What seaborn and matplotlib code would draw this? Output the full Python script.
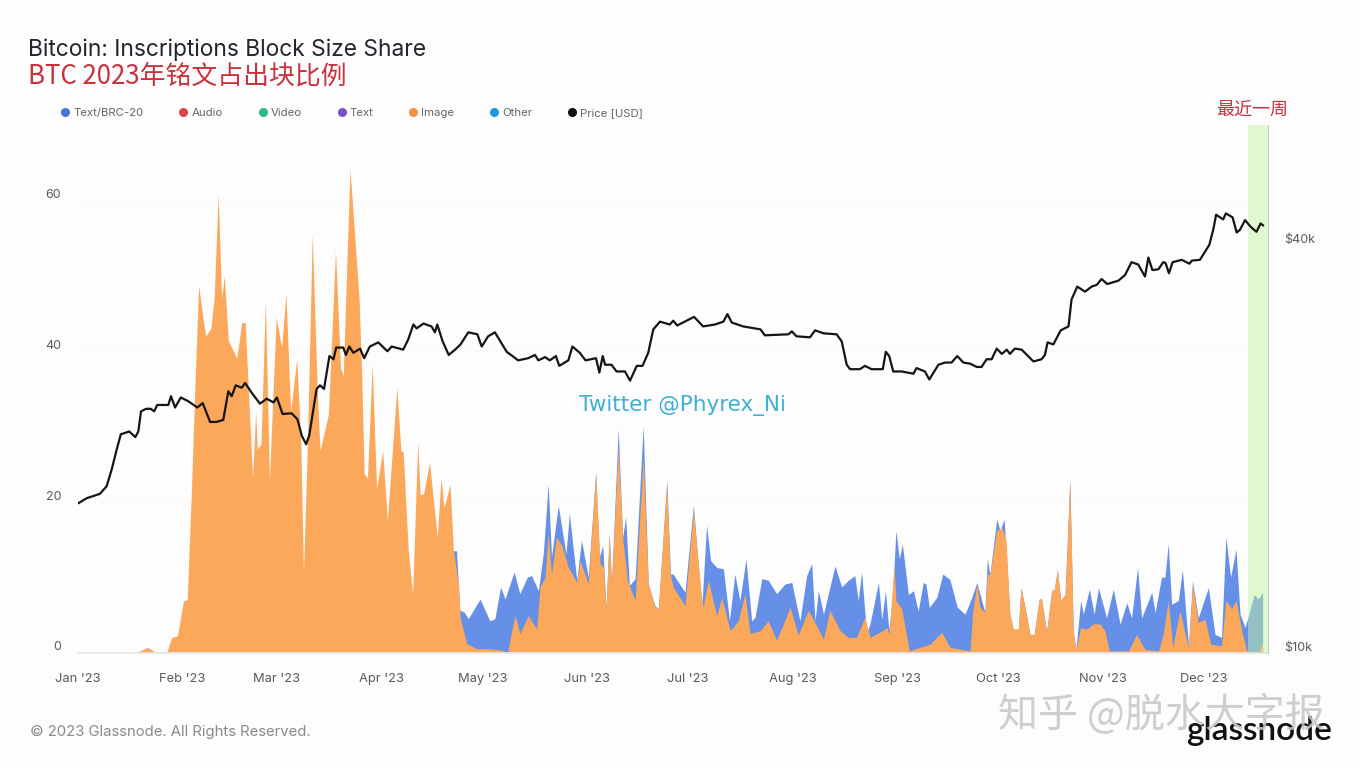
import pandas as pd
import numpy as np
import matplotlib
matplotlib.use('Agg')
import matplotlib.pyplot as plt
import matplotlib.dates as mdates
from matplotlib.lines import Line2D
from matplotlib.transforms import ScaledTranslation
import seaborn as sns

# Values. Days are counted from 1 Jan 2023
image_days = [17.4, 20.6, 22.8, 26.3, 27.8, 29.5, 31.3, 32.4, 33.7, 34.7, 35.8, 37.2, 37.9, 39.4, 40.4, 41.6, 42.6, 43.4,
              44.6, 46.1, 47.1, 48.6, 49.6, 50.8, 51.8, 52.7, 53.2, 54.3, 55.6, 56.8, 58.8, 60.4, 61.7, 63.1, 64.9, 66.1,
              66.9, 68.1, 69.5, 71, 71.8, 74.3, 76.4, 77.9, 78.7, 80.7, 82.2, 83.4, 84.2, 84.9, 85.9, 87.3, 88.6, 90.4,
              91.8, 94.6, 95.8, 96.5, 98, 99.3, 100.8, 101.5, 102.5, 104.3, 106.6, 107.7, 108.6, 110.4, 111.4, 112.9, 113.4,
              115.3, 118.3, 122.2, 125.7, 127.5, 128.7, 129.7, 131.1, 133.6, 136.1, 137.1, 138.6, 139.5, 140.5, 142, 143.5,
              145.5, 148, 149, 151.4, 153.6, 154.9, 155.9, 156.7, 157.6, 158.3, 160.3, 161.6, 163, 165.3, 167.7, 169.2, 171.2,
              172.2, 174.7, 175.7, 176.6, 180.1, 182.6, 184.6, 185.5, 187, 189.5, 191, 193.5, 195.9, 197.9, 199.4, 202.4,
              204.8, 207.3, 211.3, 213.7, 216.7, 221.2, 223.1, 226.1, 228.6, 231, 233.5, 235, 238, 240, 240.7, 242.1, 242.7,
              244.4, 245.4, 246.7, 247.9, 252.8, 256.3, 258.7, 264.7, 265.5, 266.7, 267.6, 269.1, 269.8, 270.6, 272.6, 274.1,
              275.4, 276.5, 277.5, 279, 279.8, 281, 282.5, 283.7, 285.2, 285.9, 287.4, 288.9, 289.7, 290.6, 291.6, 292.9,
              294.3, 295.3, 296.1, 297.5, 299.3, 301.3, 303.2, 304.7, 306, 311.7, 314.1, 316.6, 320.6, 322, 323.5, 324.8,
              327, 328.5, 329.5, 330.7, 332.4, 334.4, 336.1, 339.3, 340.6, 342.3, 343.6, 345.3, 346.8, 350.2, 351.5]
image_share = [0, 0.7, 0.1, 0, 2, 2.2, 6.9, 7, 22, 35.6, 48.7, 44, 42, 43, 47, 60.8, 47, 50,
               41.4, 40, 39, 43.8, 43.8, 32.5, 23, 32, 27, 27.7, 46.7, 22.8, 44.5, 40.5, 47.6, 32, 39, 28,
               10.6, 28, 55.5, 34.7, 26.8, 31.6, 53.3, 37.8, 36.7, 64.2, 54.6, 47, 36.5, 23.7, 23.2, 38.3, 21.7, 26.8,
               17.5, 35.2, 26.8, 26.6, 13.5, 7.7, 28, 21, 21, 25.2, 15.3, 23.2, 19.2, 22.3, 13.5, 9, 4.6,
               1.2, 0.5, 0.5, 0.3, 0, 2.9, 4.9, 2.5, 4.9, 3.1, 8.7, 10, 15.8, 10.4, 15.3, 14.2,
               11.3, 9.3, 12.2, 9.1, 23.9, 11.8, 11.3, 5.8, 15.8, 9.1, 27.3, 15.3, 9.6, 6.9, 25.9, 9.1, 6,
               5.8, 22.4, 10.4, 8.7, 6.2, 18.8, 9.1, 6, 9.6, 4.9, 7.3, 2.9, 4.2, 7.8, 2.5, 2.9,
               4.2, 1.6, 6, 2.3, 5.6, 1.8, 5.6, 2.9, 2, 2, 4.7, 2, 2.7, 3.3, 2.4, 11.7, 6.9,
               5.8, 3.3, 0.2, 0.4, 1.1, 2.7, 0.7, 0.2, 5.5, 9.1, 6, 5.3, 10.4, 10.4, 16.2, 16.6,
               14.8, 5.1, 3.1, 3.1, 8.6, 6, 2.4, 2.4, 7.1, 7.1, 2.7, 8.2, 8.4, 11, 6.9, 7.7,
               23, 2.9, 0.4, 3.3, 3.1, 3.8, 3.8, 2.9, 0.2, 0.2, 2.4, 0.4, 0.2, 2.4, 6.9, 0.7,
               5.5, 2.4, 0.7, 9.1, 4, 4.4, 1.1, 0.9, 6.9, 5.8, 6.9, 2.9, 0.2, 0, 1.3]

# top edge of the blue band (Text/BRC-20 stacked on Image)
stack_days = [111.4, 112.3, 113.3, 114.5, 115.8, 119.3, 122.2, 123.7, 125.4, 126.7, 129.4, 131.1, 133.3, 134.6,
              136.6, 138.1, 139.5, 140.5, 142.5, 144.8, 145.8, 148, 149.4, 151.4, 153.6, 154.7, 155.7, 156.7, 157.6, 158.3,
              160.3, 161.6, 162.5, 163.6, 165.3, 167.7, 169.2, 171.2, 172.2, 174.7, 175.8, 176.6, 180.1, 182.6, 185.1, 186.5,
              187.7, 189.5, 191.5, 193.3, 194.9, 196.4, 198.2, 199.9, 200.9, 202.9, 204.8, 207.3, 209.8, 211.8, 214.2, 216.2,
              217.7, 218.7, 219.7, 221.2, 224.6, 226.6, 228.6, 230.5, 231.5, 232.5, 234, 235, 237.5, 238.5, 239.6, 240.6,
              241.7, 242.7, 243.7, 244.6, 246.4, 247.9, 249.3, 250.8, 251.6, 252.6, 254.8, 256.6, 258.7, 260.9, 263.2, 265.2,
              266.7, 269.1, 269.8, 270.6, 272.6, 273.6, 274.8, 276.5, 277.5, 279, 279.8, 281, 282.5, 283.7, 285.2, 285.9,
              287.4, 288.9, 289.7, 290.6, 291.6, 292.9, 294.3, 295.3, 296.1, 297.5, 298.3, 300.1, 301.5, 302.8, 305.2, 307.2, 309.2,
              311.2, 312.6, 314.4, 315.6, 318.6, 319.6, 321.5, 322.5, 323.5, 324.5, 326.5, 327.7, 329.5, 330.7, 332.4, 335.4,
              337.4, 339.3, 340.6, 342, 343.6, 344.8, 346.3, 349, 350.2, 351.5]
stack_share = [13.5, 13.5, 5.6, 5.4, 4.5, 7.1, 4.2, 4.5, 8.7, 7.1, 10.7, 7.8, 10, 10.2,
               8.2, 13.3, 22.4, 12.7, 19.5, 13.1, 18.4, 9.6, 14.9, 10, 23.9, 12.7, 14.2, 5.8, 15.8, 9.1,
               29.7, 15.3, 18, 8.9, 9.8, 30.1, 9.1, 6.2, 5.8, 22.8, 10.4, 10.4, 8, 19.5, 6, 16.9,
               12.2, 11.3, 11.1, 4.2, 10.4, 6.9, 12.4, 4.2, 4.7, 9.8, 9.6, 7.8, 9.1, 9.3, 4.2, 10.2,
               11.8, 4.2, 8.2, 5.1, 11.5, 8.7, 9.6, 10.2, 6.9, 10.7, 2.5, 3.8, 9.3, 4.4, 8.2, 2.9,
               7.7, 16.2, 12.4, 14.4, 7.7, 8.2, 5.5, 9.3, 9.1, 6, 7.3, 10.4, 9.7, 6, 5.1, 7.3,
               9.3, 5.3, 12.4, 10.4, 17.7, 16.2, 17.7, 5.1, 3.1, 3.1, 8.6, 6, 2.4, 2.4, 7.1, 7.1,
               2.7, 8.2, 8.4, 11, 6.9, 7.7, 23, 2.9, 0.4, 6.9, 5.1, 8.4, 5.1, 8.6, 4.6, 8.4, 3.8,
               6.6, 4.6, 11.3, 4.6, 8, 5.3, 10, 10, 14.4, 6.4, 6.9, 11, 0.9, 9.5, 4.6, 8.6,
               2.4, 2, 15.3, 10, 13.7, 5.1, 3.3, 7.7, 7.1, 8]

price_days = [0, 2.6, 6.5, 8.5, 10, 11.5, 12.7, 14, 15.2, 17, 17.9, 18.7, 20.2, 21.6, 22.6, 23.5, 26.8, 27.6, 28.8, 30.5,
              32.7, 35.4, 37, 39.2, 41.1, 43.1, 44.6, 45.6, 46.8, 48.6, 49.6, 51.5, 54, 56, 58, 59, 60.7, 63.4, 65.1, 66.4,
              67.7, 68.6, 70.8, 71.8, 73, 74.6, 75.8, 76.6, 78.7, 79.5, 80.5, 81.7, 83.7, 84.9, 86.6, 89.1, 91.8, 93.1, 96.5,
              98, 99.5, 100.5, 102.5, 104.9, 105.9, 106.6, 108.2, 110, 111.9, 113.5, 115.8, 118.5, 119.8, 121.7, 123.7, 127.2,
              130.6, 133.6, 135.6, 136.6, 138.6, 140, 141.8, 142.8, 145.5, 146.7, 148.9, 150.6, 153.7, 154.7, 155.7, 156.4,
              158.3, 159.8, 162.3, 163.8, 165.8, 167.5, 169.2, 170.7, 172.7, 175.6, 176.6, 177.8, 182.8, 185.5, 189, 191.5,
              192.7, 194, 197.4, 202.5, 203.8, 210.8, 211.8, 213.2, 217.2, 218.7, 221.2, 225.1, 226.6, 228.1, 229.1, 232,
              233.5, 235.5, 238.8, 239.7, 240.7, 241.9, 244.4, 247.9, 248.8, 251.3, 252.6, 255.3, 257.3, 259.2, 260.9, 262.7,
              264.7, 266.7, 268.1, 269.6, 271.1, 272.6, 274.1, 275.6, 276.5, 278, 280, 283.5, 285.9, 286.9, 287.7, 289.4,
              291.6, 293.9, 294.8, 296.5, 298.8, 300.8, 302.3, 303.7, 305.4, 308.7, 310.7, 312.6, 314.6, 316.6, 317.6, 318.8,
              320.6, 322, 322.7, 323.7, 324.8, 327.5, 329.8, 330.5, 332.9, 335.7, 336.9, 337.7, 339.8, 340.6, 342.6, 343.8,
              344.8, 346.3, 347.8, 348.7, 349.7, 350.9, 351.7]
price_usd = [16600, 16900, 17150, 17600, 18640, 19950, 21000, 21100, 21200, 20800, 21200, 22700, 22900, 22900, 22700, 23200, 23200, 23900, 23000, 23800,
             23500, 23000, 23350, 21900, 21900, 22050, 24300, 23900, 24800, 24600, 25000, 24200, 23300, 23700, 23400, 23800, 22500, 22550, 22100, 20900,
             20300, 20900, 24500, 24800, 24500, 27400, 27100, 28200, 28200, 27500, 28300, 27700, 28100, 27200, 28300, 28700, 27850, 28300, 28000,
             29000, 30500, 30100, 30600, 30300, 29700, 30500, 28800, 27500, 28000, 28500, 29700, 29500, 28300, 29300, 29700, 27800,
             27000, 27200, 27500, 27000, 27300, 27000, 27400, 26500, 27000, 28300, 27700, 27000, 27200, 25900, 27400, 26600,
             26600, 26000, 26000, 25200, 26500, 26500, 27700, 30000, 30800, 30500, 30900, 30400, 31300, 30300, 30500, 30800,
             31600, 30700, 30300, 30000, 29400, 29500, 29800, 29300, 29200, 29900, 29600, 29500, 28800, 26600, 26200, 26200,
             26500, 26200, 26200, 27800, 27400, 26000, 26000, 25800, 26300, 26000, 25300, 26600, 26800, 26800, 27400, 26800,
             26700, 26400, 26400, 27100, 27100, 28100, 27600, 28000, 27600, 28100, 28000, 26900, 27100, 27500, 28700, 28500,
             29900, 30300, 33200, 34700, 34100, 34700, 34900, 35600, 35000, 35400, 36100, 37700, 37400, 35900, 38300, 36700,
             36800, 37700, 37600, 36300, 37700, 38000, 37500, 37900, 38000, 40000, 42200, 44300, 43600, 44500, 43900, 41700,
             42100, 43500, 42600, 42200, 41800, 43000, 42700]

legend_names = ['Text/BRC-20', 'Audio', 'Video', 'Text', 'Image', 'Other', 'Price [USD]']
legend_colors = ['#4a72d0', '#d8434e', '#2bb88a', '#7b4fc9', '#ef9440', '#1f97e0', '#111111']

share_ticks = [0, 20, 40, 60]
price_ticks = [10000, 40000]
price_tick_labels = ['$10k', '$40k']


def to_dates(days):
    return pd.Timestamp('2023-01-01') + pd.to_timedelta(days, unit='D')


sns.set_theme(style='white')
plt.rcParams['font.family'] = ['Inter', 'Noto Sans CJK SC', 'DejaVu Sans']
plt.rcParams['axes.unicode_minus'] = False

W, H = 1360, 766
BG = '#fdfdfe'
fig = plt.figure(figsize=(W / 100, H / 100), dpi=100, facecolor=BG)
left, right, top, bottom = 78, 1268, 125, 652.5
ax = fig.add_axes([left / W, 1 - bottom / H, (right - left) / W, (bottom - top) / H], facecolor=BG)

# share areas, the stack top goes behind the image area
ax.fill_between(to_dates(stack_days), 0, stack_share, color='#6690e8', lw=0)
ax.fill_between(to_dates(image_days), 0, image_share, color='#fba85b', lw=0)

ax.set_xlim(to_dates([0, 353.1]))
ax.set_ylim(0, 70)
ax.set_yticks(share_ticks)
ax.grid(axis='y', color='#f9f9fa', lw=1)
ax.set_axisbelow(True)
ax.xaxis.set_major_locator(mdates.MonthLocator())
ax.xaxis.set_major_formatter(mdates.DateFormatter("%b '%y"))
ax.tick_params(axis='x', length=0, pad=15, labelsize=9.3, labelcolor='#5a5a5a')
ax.tick_params(axis='y', length=0, pad=12, labelsize=9, labelcolor='#5a5a5a')
for sp in ['top', 'left', 'right']:
    ax.spines[sp].set_visible(False)
ax.spines['bottom'].set_color('#e6e6ea')

# price on its own log axis
ax2 = ax.twinx()
sns.lineplot(x=to_dates(price_days), y=price_usd, ax=ax2, color='#151515', lw=1.6, estimator=None, errorbar=None, zorder=6)
ax2.set_yscale('log')
ax2.set_ylim(10000, 60100)
ax2.set_yticks(price_ticks)
ax2.set_yticklabels(price_tick_labels)
ax2.minorticks_off()
ax2.set_xlabel('')
ax2.set_ylabel('')
ax2.tick_params(axis='y', length=0, pad=12, labelsize=9, labelcolor='#5a5a5a')
for sp in ['top', 'left', 'bottom']:
    ax2.spines[sp].set_visible(False)
ax2.spines['right'].set_color('#c4c8c8')
ax2.spines['right'].set_linewidth(0.8)

# the labels sit above their gridlines in the original
lift = ScaledTranslation(0, -1 / 100, fig.dpi_scale_trans)
for lab in ax.get_yticklabels() + ax2.get_yticklabels():
    lab.set_va('bottom')
    lab.set_transform(lab.get_transform() + lift)

# last week highlight
ax2.axvspan(to_dates([347.2])[0], to_dates([353.1])[0], color='#c4f5a0', alpha=0.48, lw=0, zorder=5)

handles = [Line2D([], [], ls='', marker='o', ms=5.5, color=c) for c in legend_colors]
fig.legend(handles, legend_names, ncol=7, frameon=False, loc='center left', bbox_to_anchor=(54 / W, 1 - 113 / H),
           fontsize=8.2, labelcolor='#666666', handlelength=1, handletextpad=0.2, columnspacing=3.0, borderpad=0)


def px_text(x, y, s, **kw):
    kw.setdefault('va', 'center')
    fig.text(x / W, 1 - y / H, s, **kw)


px_text(28, 50, 'Bitcoin: Inscriptions Block Size Share', fontsize=16.4, color='#22252b')
px_text(28, 76, 'BTC 2023年铭文占出块比例', fontsize=18.6, color='#c8323c', family=['Noto Sans CJK SC', 'DejaVu Sans'])
px_text(1252, 110, '最近一周', fontsize=13, color='#c8323c', ha='center', family=['Noto Sans CJK SC', 'DejaVu Sans'])
px_text(682, 406, 'Twitter @Phyrex_Ni', fontsize=15.5, color='#3fb0d0', ha='center', family='DejaVu Sans')
px_text(30, 732, '© 2023 Glassnode. All Rights Reserved.', fontsize=10.7, color='#8a8a8a')
px_text(1259, 731, 'glassnode', fontsize=24, color='#111111', ha='center', weight='semibold', family='Lato')
px_text(1161, 715, '知乎 @脱水大字报', fontsize=28.8, color='#c6c6c6', ha='center', alpha=0.85,
        family=['Noto Sans CJK SC', 'DejaVu Sans'])

fig.savefig('out.png', dpi=100, facecolor=BG)
